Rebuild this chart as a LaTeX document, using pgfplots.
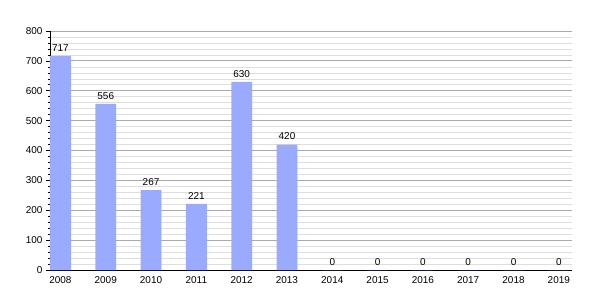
\documentclass[border=0pt]{standalone}
\usepackage{pgfplots}
\pgfplotsset{compat=1.18}
\usepackage{fontspec}
\setmainfont{Liberation Sans}
\definecolor{barblue}{RGB}{153,170,255}
\definecolor{majgrid}{RGB}{170,170,170}
\definecolor{mingrid}{RGB}{222,222,222}
\begin{document}
\begin{tikzpicture}
\begin{axis}[
  scale only axis,
  width=522bp, height=239bp,
  xmin=2007.77, xmax=2019.29,
  ymin=0, ymax=800,
  axis x line*=bottom,
  axis y line*=left,
  xtick={2008,...,2019},
  xticklabel style={/pgf/number format/1000 sep={}},
  x tick label style={font=\fontsize{10}{12}\selectfont, yshift=1pt},
  y tick label style={font=\fontsize{10}{12}\selectfont},
  /pgf/number format/assume math mode=true,
  /pgf/number format/1000 sep={},
  ytick={0,100,...,800},
  minor y tick num=4,
  ymajorgrids, yminorgrids,
  major grid style={majgrid, line width=0.8pt},
  minor grid style={mingrid, line width=0.6pt},
  major x tick style={draw=none},
  tick align=outside,
  major tick length=4bp,
  minor tick length=2.5bp,
  tick style={black, line width=0.6pt},
  axis line style={black, line width=0.8pt},
  ybar, bar width=0.46,
  nodes near coords,
  every node near coord/.append style={font=\fontsize{10}{12}\selectfont, black, yshift=1pt},
  clip=false,
]
\addplot[fill=barblue, draw=none] coordinates {
(2008,717) (2009,556) (2010,267) (2011,221) (2012,630) (2013,420)
(2014,0) (2015,0) (2016,0) (2017,0) (2018,0) (2019,0)};
\coordinate (sw) at (rel axis cs:0,0);
\coordinate (ne) at (rel axis cs:1,1);
\end{axis}
\pgfresetboundingbox
\path ([xshift=-50bp,yshift=-30bp]sw) rectangle ([xshift=28bp,yshift=31bp]ne);
\end{tikzpicture}
\end{document}
